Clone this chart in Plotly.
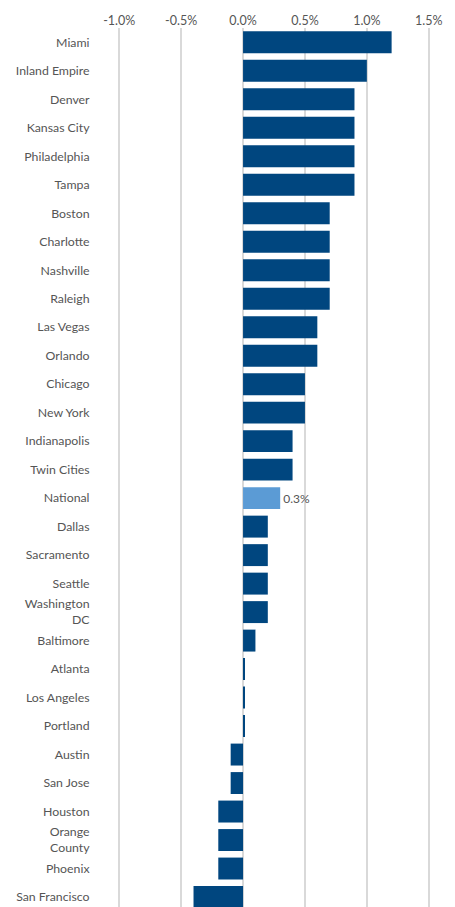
import plotly.graph_objects as go

cities = ["Miami", "Inland Empire", "Denver", "Kansas City", "Philadelphia", "Tampa",
          "Boston", "Charlotte", "Nashville", "Raleigh", "Las Vegas", "Orlando",
          "Chicago", "New York", "Indianapolis", "Twin Cities", "National", "Dallas",
          "Sacramento", "Seattle", "Washington<br>DC", "Baltimore", "Atlanta",
          "Los Angeles", "Portland", "Austin", "San Jose", "Houston",
          "Orange<br>County", "Phoenix", "San Francisco"]
values = [1.2, 1.0, 0.9, 0.9, 0.9, 0.9,
          0.7, 0.7, 0.7, 0.7, 0.6, 0.6,
          0.5, 0.5, 0.4, 0.4, 0.3, 0.2,
          0.2, 0.2, 0.2, 0.1, 0.01,
          0.01, 0.01, -0.1, -0.1, -0.2,
          -0.2, -0.2, -0.4]
tick_vals = [-1.0, -0.5, 0.0, 0.5, 1.0, 1.5]
tick_text = ["-1.0%", "-0.5%", "0.0%", "0.5%", "1.0%", "1.5%"]

DARK = "#00467f"
LIGHT = "#5b9bd5"
colors = [LIGHT if c == "National" else DARK for c in cities]
texts = ["%.1f%%" % v if c == "National" else "" for c, v in zip(cities, values)]

fig = go.Figure(go.Bar(
    x=values, y=cities, orientation="h",
    marker=dict(color=colors, line=dict(width=0)),
    text=texts, textposition="outside", cliponaxis=False,
    textfont=dict(color="#555555", size=12, family="Lato"),
    width=0.77,
))

fig.update_layout(
    width=447, height=899,
    margin=dict(l=110, r=25, t=20, b=0, autoexpand=False),
    plot_bgcolor="white", paper_bgcolor="white",
    font=dict(family="Lato", size=12, color="#555555"),
    showlegend=False,
    xaxis=dict(side="top", range=[-1.01, 1.51], tickvals=tick_vals, ticktext=tick_text,
               showgrid=True, gridcolor="#d9d9d9", gridwidth=1.5, zeroline=False,
               showline=False, ticks="", automargin=False,
               tickfont=dict(size=12.5, color="#555555")),
    yaxis=dict(categoryorder="array", categoryarray=cities,
               range=[30.35, -0.5], showgrid=False, zeroline=False, showline=False,
               ticks="outside", ticklen=25, tickcolor="rgba(0,0,0,0)", automargin=False,
               tickfont=dict(size=12.3, color="#555555")),
)

fig.write_html("out.html")
